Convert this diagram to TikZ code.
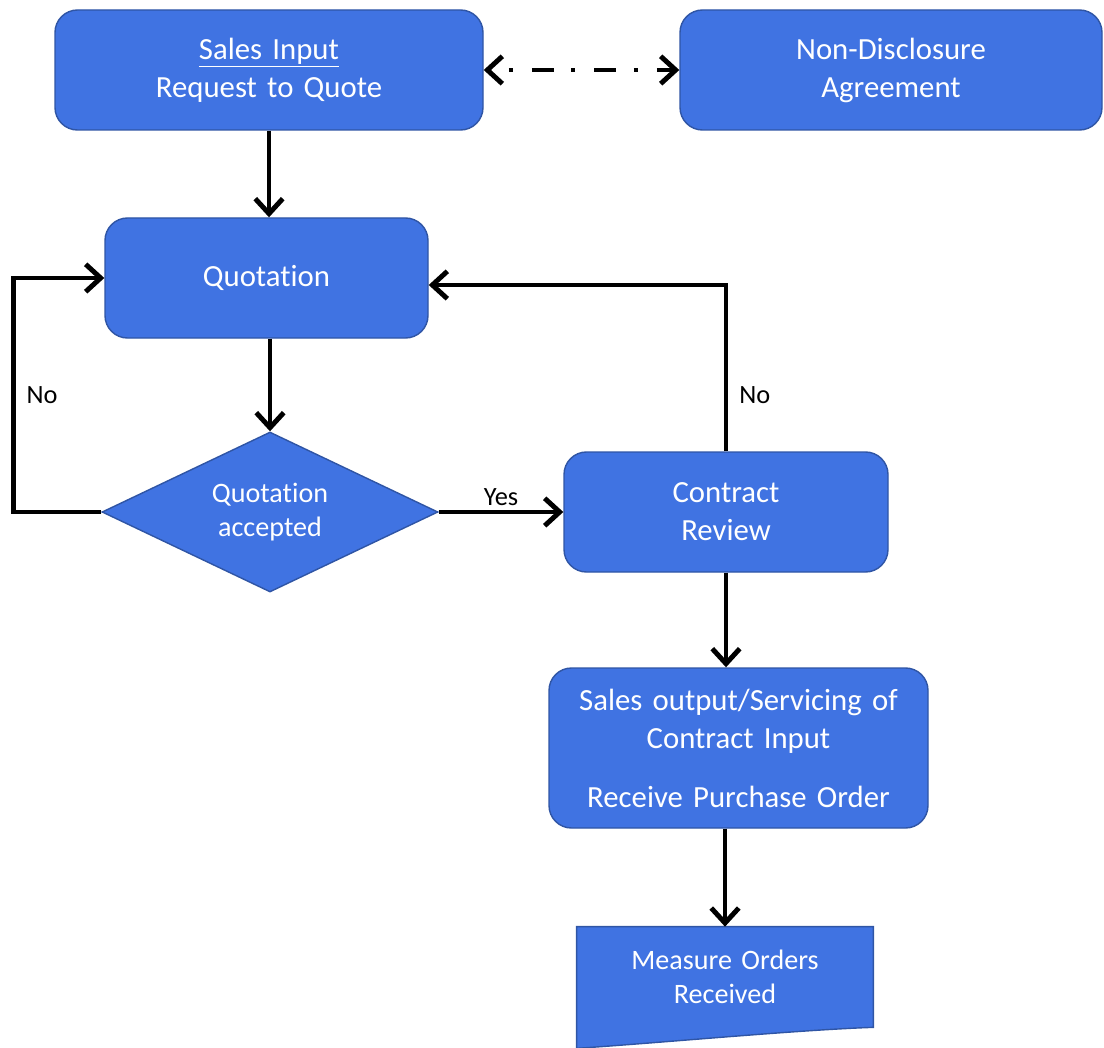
\documentclass[tikz,border=0pt]{standalone}
\usepackage{fontspec}
\setmainfont{Carlito}[Ligatures=NoCommon]
\usetikzlibrary{shapes.geometric, arrows.meta, positioning, backgrounds}
\definecolor{boxblue}{RGB}{64,115,226}
\definecolor{boxedge}{RGB}{47,85,165}
\tikzstyle{process} = [rectangle, rounded corners=0.45cm, minimum width=6.5cm, minimum height=2.4cm, text centered, text width=5.5cm, draw=boxedge, line width=0.8pt, fill=boxblue, text=white, font=\fontsize{17.5}{21.6}\selectfont]
\tikzstyle{decision} = [diamond, aspect=2.1, inner sep=0pt, minimum width=6.72cm, minimum height=3.2cm, text centered, text width=3cm, draw=boxedge, line width=0.8pt, fill=boxblue, text=white, font=\fontsize{16}{19}\selectfont]
\tikzstyle{docbox} = [rectangle, minimum width=5.92cm, minimum height=2cm, text centered, text width=5cm, text=white, font=\fontsize{16}{19}\selectfont]
\tikzstyle{lbl} = [font=\fontsize{15}{18}\selectfont]
\tikzstyle{arrow} = [line width=2.8pt, ->, >={Straight Barb[length=0.3cm, width=0.55cm]}]
\tikzstyle{dasharrow} = [line width=2.8pt, <->, >={Straight Barb[length=0.3cm, width=0.55cm]}, dash pattern=on 0.08cm off 0.38cm on 0.44cm off 0.35cm, dash phase=0.87cm]

\begin{document}
\begin{tikzpicture}[node distance=4cm]
\useasboundingbox (0,0) rectangle (22.08,-20.96);

%% NODES

\node (sales) [process, minimum width=8.56cm, text width=7.5cm] at (5.38,-1.40) {\underline{Sales Input}\\Request to Quote};
\node (nda) [process, right of=sales, minimum width=8.44cm, text width=7.5cm, node distance=12.44cm] {Non-Disclosure\\Agreement};
\node (quote) [process, below of=sales, minimum width=6.46cm, xshift=-0.05cm, node distance=4.16cm] {Quotation};
\node (accept) [decision, below of=quote, xshift=0.07cm, node distance=4.68cm] {Quotation\\accepted};
\node (review) [process, right of=accept, minimum width=6.48cm, node distance=9.12cm] {Contract\\Review};
\node (output) [process, below of=review, minimum width=7.58cm, minimum height=3.2cm, text width=6.8cm, xshift=0.25cm, node distance=4.72cm] {Sales output/Servicing of\\Contract Input\\[12pt]Receive Purchase Order};
\node (measure) [docbox, below of=output, xshift=-0.27cm, node distance=4.58cm] {Measure Orders\\Received};

\begin{pgfonlayer}{background}
\draw [fill=boxblue, draw=boxedge, line width=0.8pt] (measure.north west) -- (measure.north east) -- (measure.south east) .. controls +(-1.5,-0.05) and +(1.8,0.12) .. ([yshift=-0.42cm]measure.south west) -- cycle;
\end{pgfonlayer}

%% ARROWS

\draw [arrow] (sales.south) -- (sales.south |- quote.north);
\draw [arrow] (quote.south -| accept.north) -- (accept.north);
\draw [arrow] (accept.west) -- +(-1.76,0) |- node[lbl, pos=0.25, right=0.1cm] {No} (quote.west);
\draw [arrow] (accept.east) -- node[lbl, above=-0.05cm] {Yes} (review.west);
\draw [arrow] (review.north) |- node[lbl, pos=0.17, right=0.1cm] {No} ([yshift=-0.14cm]quote.east);
\draw [arrow] (review.south) -- (review.south |- output.north);
\draw [arrow] (output.south -| measure.north) -- (measure.north);
\draw [dasharrow] (sales.east) -- (nda.west);

\end{tikzpicture}
\end{document}
